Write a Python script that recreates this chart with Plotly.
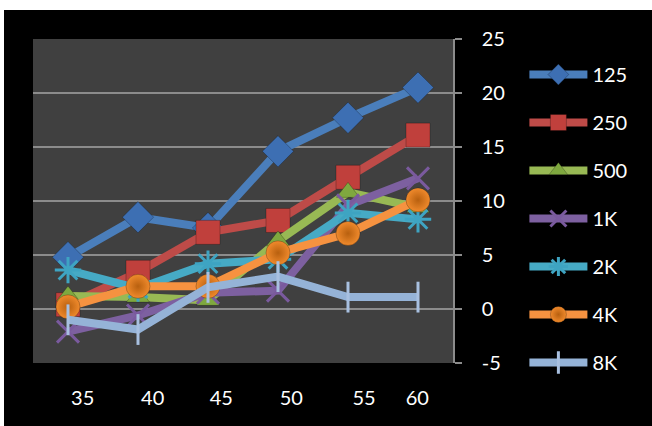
import plotly.graph_objects as go

categories = ["35", "40", "45", "50", "55", "60"]
tick_offsets = [0.21, 0.21, 0.19, 0.19, 0.23, -0.01]
y_ticks = [-5, 0, 5, 10, 15, 20, 25]
y_tick_text = ["-5", "0", "5", "10", "15", "20", "25"]

series_names = ["125", "250", "500", "1K", "2K", "4K", "8K"]
s125 = [4.8, 8.5, 7.5, 14.6, 17.7, 20.5]
s250 = [0.4, 3.4, 7.1, 8.2, 12.2, 16.1]
s500 = [1.2, 1.1, 0.8, 6.3, 10.8, 9.4]
s1k = [-2.1, -0.6, 1.5, 1.7, 9.6, 12.1]
s2k = [3.6, 1.9, 4.2, 4.6, 8.9, 8.3]
s4k = [0.2, 2.1, 2.1, 5.2, 7.0, 10.1]
s8k = [-1.0, -1.9, 2.0, 3.0, 1.1, 1.1]

values = [s125, s250, s500, s1k, s2k, s4k, s8k]
line_colors = ["#4a7ebb", "#be4b48", "#98b954", "#7d60a0", "#46aac5", "#f69240", "#95b3d7"]
marker_colors = ["#3d6fb3", "#c0403c", "#7fa83f", "#7a5a9e", "#3ea4c2", "#f08a2c", "#a8c0e0"]
symbols = ["diamond", "square", "triangle-up", "x-thin-open", "asterisk-open", "circle", "line-ns-open"]
sizes = [24, 24, 20, 22, 22, 24, 22]

xs = list(range(len(categories)))

fig = go.Figure()
for name, vals, lc, mc, sym, sz in zip(series_names, values, line_colors, marker_colors, symbols, sizes):
    marker = dict(symbol=sym, size=sz, color=mc)
    if sym.endswith("-open"):
        marker["line"] = dict(color=mc, width=3)
    else:
        marker["line"] = dict(color="rgba(0,0,0,0.25)", width=1)
    if sym == "circle":
        marker["gradient"] = dict(type="radial", color="#b8600f")
    fig.add_trace(go.Scatter(
        x=xs, y=vals, name=name, mode="lines+markers",
        line=dict(color=lc, width=8),
        marker=marker, legendgroup=name,
    ))

W, H = 652, 426
L, R, T, B = 33, 199, 39, 63
pw, ph = W - L - R, H - T - B

def px_to_paper_x(px):
    return (px - L) / pw

def px_to_paper_y(py):
    return (H - B - py) / ph

shapes = [
    dict(type="rect", xref="paper", yref="paper", layer="below",
         x0=px_to_paper_x(0), x1=px_to_paper_x(W), y0=px_to_paper_y(0), y1=px_to_paper_y(10),
         fillcolor="white", line=dict(width=0)),
    dict(type="rect", xref="paper", yref="paper", layer="below",
         x0=px_to_paper_x(0), x1=px_to_paper_x(4), y0=px_to_paper_y(0), y1=px_to_paper_y(H),
         fillcolor="white", line=dict(width=0)),
]

font_family = "Lato, 'Open Sans', sans-serif"

fig.update_layout(
    width=W, height=H,
    margin=dict(l=L, r=R, t=T, b=B, pad=0),
    paper_bgcolor="black",
    plot_bgcolor="#404040",
    shapes=shapes,
    font=dict(family=font_family, color="white", size=20),
    showlegend=True,
    legend=dict(
        x=1.17, y=px_to_paper_y(55), xanchor="left", yanchor="top",
        font=dict(size=20, color="white", family=font_family),
        bgcolor="rgba(0,0,0,0)", itemwidth=58, tracegroupgap=19,
        maxheight=420,
    ),
    xaxis=dict(
        range=[-0.5, 5.5], tickmode="array",
        tickvals=[i + o for i, o in zip(xs, tick_offsets)], ticktext=categories,
        showgrid=False, zeroline=False, showline=False,
        ticks="", ticklabelstandoff=21,
        tickfont=dict(size=20, color="white", family=font_family),
    ),
    yaxis=dict(
        range=[-5, 25], side="right", tickmode="array", tickvals=y_ticks, ticktext=y_tick_text,
        showgrid=True, gridcolor="#8c8c8c", gridwidth=1.5,
        zeroline=False, showline=True, linecolor="#8c8c8c", linewidth=1.5,
        ticks="outside", ticklen=7, tickcolor="#8c8c8c", tickwidth=1.5,
        ticklabelstandoff=16,
        tickfont=dict(size=20, color="white", family=font_family),
    ),
)

fig.write_html("out.html")
